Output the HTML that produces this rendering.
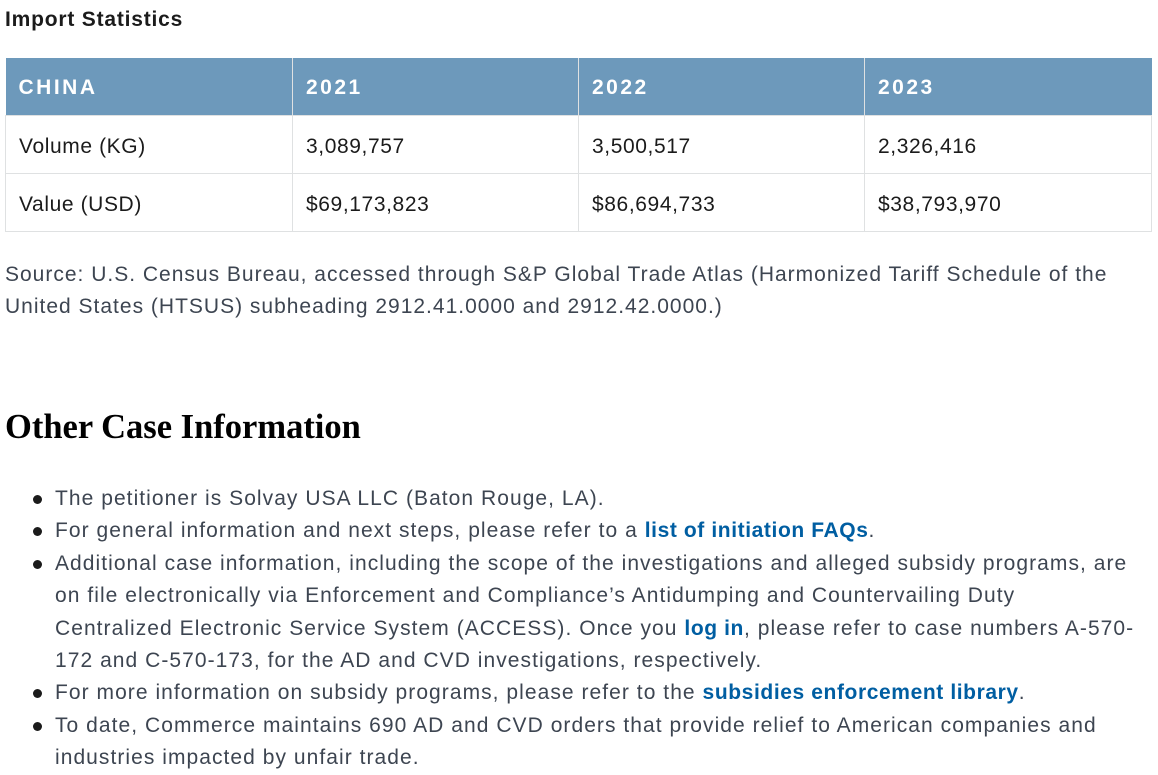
<!DOCTYPE html>
<html><head><meta charset="utf-8"><style>
*{margin:0;padding:0;box-sizing:border-box}
body{width:1158px;height:770px;overflow:hidden;background:#fff;font-family:"Liberation Sans",sans-serif;color:#1b1b1b;position:relative}
.t{position:absolute;white-space:nowrap}
.h3{left:5px;top:8px;font-size:21px;letter-spacing:0.8px;font-weight:bold;color:#1b1b1b}
table{position:absolute;left:5px;top:58px;width:1147px;border-collapse:collapse;font-size:21px;letter-spacing:0.6px}
th{background:#6d99bb;color:#fff;text-align:left;font-weight:bold;letter-spacing:2.5px;height:57px;padding-left:13px;padding-top:4px;border-right:1px solid #dfe1e2;font-size:21px}
td{height:58px;padding-left:13px;padding-top:5px;border:1px solid #dfe1e2;color:#1b1b1b}
th:last-child{border-right:none}
.p{left:5px;font-size:21px;letter-spacing:1px;color:#3d4551;line-height:32.4px}
h2{position:absolute;left:5px;top:408px;font-family:"Liberation Serif",serif;font-size:34.5px;font-weight:bold;color:#000;white-space:nowrap}
ul{position:absolute;left:55px;top:483px;font-size:21px;letter-spacing:1.05px;color:#3d4551;line-height:32.4px;list-style:none;white-space:nowrap}
li{position:relative}
li::before{content:"";position:absolute;left:-22px;top:12px;width:9px;height:9px;border-radius:50%;background:#1b1b1b}
a{color:#005ea2;font-weight:bold;text-decoration:none;letter-spacing:0.6px}
</style></head><body>
<div class="t h3">Import Statistics</div>
<table>
<tr><th style="width:287px">CHINA</th><th style="width:286px">2021</th><th style="width:286px">2022</th><th>2023</th></tr>
<tr><td>Volume (KG)</td><td>3,089,757</td><td>3,500,517</td><td>2,326,416</td></tr>
<tr><td>Value (USD)</td><td>$69,173,823</td><td>$86,694,733</td><td>$38,793,970</td></tr>
</table>
<div class="t p" style="top:259px">Source: U.S. Census Bureau, accessed through S&amp;P Global Trade Atlas (Harmonized Tariff Schedule of the<br>United States (HTSUS) subheading 2912.41.0000 and 2912.42.0000.)</div>
<h2>Other Case Information</h2>
<ul>
<li>The petitioner is Solvay USA LLC (Baton Rouge, LA).</li>
<li>For general information and next steps, please refer to a <a>list of initiation FAQs</a>.</li>
<li>Additional case information, including the scope of the investigations and alleged subsidy programs, are<br>on file electronically via Enforcement and Compliance’s Antidumping and Countervailing Duty<br>Centralized Electronic Service System (ACCESS). Once you <a>log in</a>, please refer to case numbers A-570-<br>172 and C-570-173, for the AD and CVD investigations, respectively.</li>
<li>For more information on subsidy programs, please refer to the <a>subsidies enforcement library</a>.</li>
<li>To date, Commerce maintains 690 AD and CVD orders that provide relief to American companies and<br>industries impacted by unfair trade.</li>
</ul>
</body></html>
